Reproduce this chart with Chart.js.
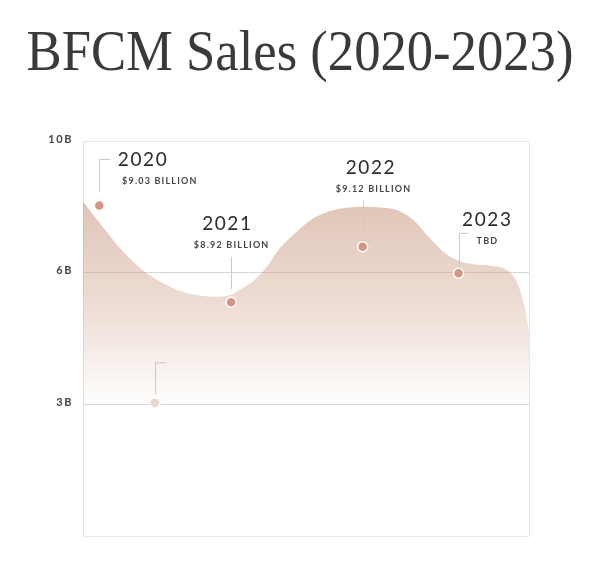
<!DOCTYPE html>
<html>
    <head>
        <title>BFCM Sales</title>
        <meta name="viewport" content="width=device-width, initial-scale=1.0">
        <script src="https://cdn.jsdelivr.net/npm/chart.js@4.4.0/dist/chart.umd.min.js"></script>

        <style>
            body {
                margin: 0;
                background: #fff;
            }
            .wrap {
                position: relative;
                width: 600px;
                height: 585px;
                overflow: hidden;
            }
            h1 {
                position: absolute;
                left: -100px;
                top: 23px;
                width: 800px;
                margin: 0;
                text-align: center;
                white-space: nowrap;
                font-family: 'Liberation Serif', serif;
                font-weight: normal;
                font-size: 56px;
                line-height: 56px;
                color: #3a3a3a;
                transform: scaleX(0.94);
            }
            canvas {
                position: absolute;
                left: 0;
                top: 0;
            }
        </style>
    </head>

    <body>
        <div class="wrap">
            <canvas id="myChart" width="600" height="585"></canvas>
            <h1>BFCM Sales (2020-2023)</h1>
        </div>

        <script>
            // y axis is drawn in equal steps, labelled 3B / 6B / 10B
            var tickLabels = ['', '3B', '6B', '10B'];

            // the four highlighted years
            var years = ['2020', '2021', '2022', '2023'];
            var salesLabels = ['$9.03 BILLION', '$8.92 BILLION', '$9.12 BILLION', 'TBD'];
            var pointX = [3.65, 33.2, 62.7, 84.2];
            var pointY = [2.51, 1.775, 2.197, 1.995];

            // faded marker without a label
            var ghostX = [16.1];
            var ghostY = [1.012];

            // outline of the shaded wave
            var curveX = [0, 2.31, 5.31, 8.30, 11.28, 14.28, 18.0, 21.75, 25.49, 29.22, 32.96, 35.87, 38.95,
                          41.19, 44.17, 47.91, 51.64, 55.38, 59.13, 62.85, 67.33, 70.34, 74.06, 77.8, 80.78,
                          83.79, 87.51, 91.26, 95.0, 97.24, 98.72, 99.84, 100.6, 100.97];
            var curveY = [2.54, 2.438, 2.311, 2.185, 2.083, 1.995, 1.919, 1.861, 1.830, 1.817, 1.830, 1.883, 1.959,
                          2.045, 2.187, 2.311, 2.413, 2.468, 2.493, 2.501, 2.493, 2.476, 2.400, 2.261, 2.159,
                          2.096, 2.063, 2.053, 2.020, 1.931, 1.779, 1.580, 1.324, 1.071];

            // leader line style per marker: gap above point, top of line, hook to the right
            var leaders = [
                { gap: 13, top: 46, hook: 11 },
                { gap: 13, top: 45, hook: 0 },
                { gap: 14, top: 46, hook: 0 },
                { gap: 0, top: 40, hook: 9 }
            ];
            var ghostLeader = { gap: 8, top: 40, hook: 11 };
            // text placement relative to each marker
            var yearOffsets = [[43, -46], [-4.5, -78], [7.5, -79], [28, -53]];
            var salesOffsets = [[60, -24], [0, -57], [10.3, -57.4], [28.3, -32]];

            function toPoints(xs, ys) {
                return xs.map(function (x, i) { return { x: x, y: ys[i] }; });
            }

            function areaFill(context) {
                var chart = context.chart;
                if (!chart.chartArea) return null;
                var y = chart.scales.y;
                var g = chart.ctx.createLinearGradient(0, y.getPixelForValue(2.55), 0, y.getPixelForValue(0.98));
                g.addColorStop(0, 'rgba(200,150,125,0.56)');
                g.addColorStop(0.55, 'rgba(200,150,125,0.3)');
                g.addColorStop(1, 'rgba(200,150,125,0)');
                return g;
            }

            function drawLeader(ctx, x, y, s) {
                ctx.beginPath();
                ctx.moveTo(x, y - s.gap);
                ctx.lineTo(x, y - s.top);
                if (s.hook) ctx.lineTo(x + s.hook, y - s.top);
                ctx.stroke();
            }

            var annotations = {
                id: 'annotations',
                beforeDraw: function (chart) {
                    chart.ctx.letterSpacing = '1.6px';
                },
                afterDatasetDraw: function (chart, args) {
                    if (args.index !== 0) return;
                    var ctx = chart.ctx;
                    ctx.save();
                    ctx.strokeStyle = '#cacaca';
                    ctx.lineWidth = 1;
                    chart.getDatasetMeta(2).data.forEach(function (p, i) {
                        drawLeader(ctx, Math.round(p.x) + 0.5, p.y, leaders[i]);
                    });
                    var g = chart.getDatasetMeta(1).data[0];
                    drawLeader(ctx, Math.round(g.x) + 0.5, g.y, ghostLeader);
                    ctx.restore();
                },
                afterDraw: function (chart) {
                    var ctx = chart.ctx;
                    ctx.save();
                    ctx.textAlign = 'center';
                    ctx.textBaseline = 'middle';
                    chart.getDatasetMeta(2).data.forEach(function (p, i) {
                        ctx.letterSpacing = '1.6px';
                        ctx.font = '19px Lato';
                        ctx.fillStyle = '#2b2b2b';
                        ctx.fillText(years[i], p.x + yearOffsets[i][0] + 0.8, p.y + yearOffsets[i][1]);
                        ctx.letterSpacing = '1.2px';
                        ctx.font = 'bold 9px Lato';
                        ctx.fillStyle = '#454545';
                        ctx.fillText(salesLabels[i], p.x + salesOffsets[i][0] + 0.6, p.y + salesOffsets[i][1]);
                    });
                    ctx.restore();
                    ctx.letterSpacing = '0px';
                }
            };

            var ctx = document.getElementById('myChart').getContext('2d');
            var chart = new Chart(ctx, {
                type: 'line',
                data: {
                    datasets: [{
                        label: 'wave',
                        data: toPoints(curveX, curveY),
                        fill: 'start',
                        backgroundColor: areaFill,
                        borderWidth: 0,
                        borderColor: 'rgba(0,0,0,0)',
                        pointRadius: 0,
                        pointHoverRadius: 0,
                        cubicInterpolationMode: 'monotone',
                        clip: false,
                        order: 3
                    }, {
                        label: 'ghost',
                        data: toPoints(ghostX, ghostY),
                        showLine: false,
                        backgroundColor: '#e9d6cc',
                        borderColor: '#ffffff',
                        borderWidth: 1.5,
                        pointRadius: 5,
                        order: 2
                    }, {
                        label: 'sales',
                        data: toPoints(pointX, pointY),
                        showLine: false,
                        backgroundColor: '#d39682',
                        borderColor: '#ffffff',
                        borderWidth: 1.5,
                        pointRadius: 5,
                        order: 1
                    }]
                },
                options: {
                    responsive: false,
                    animation: false,
                    layout: {
                        padding: { top: 141, right: 71, bottom: 49, left: 0 }
                    },
                    plugins: {
                        legend: { display: false },
                        tooltip: { enabled: false }
                    },
                    scales: {
                        x: {
                            type: 'linear',
                            min: 0,
                            max: 100,
                            afterFit: function (s) { s.height = 0; },
                            ticks: { display: false, stepSize: 100 },
                            grid: { color: '#e6e6e6', drawTicks: false },
                            border: { display: false }
                        },
                        y: {
                            min: 0,
                            max: 3,
                            afterFit: function (s) { s.width = 83; },
                            ticks: {
                                stepSize: 1,
                                padding: 10,
                                labelOffset: -2,
                                color: '#444',
                                font: { family: 'Lato', size: 11, weight: 'bold' },
                                callback: function (v) { return tickLabels[v]; }
                            },
                            grid: {
                                drawTicks: false,
                                color: function (c) {
                                    return (c.tick.value === 1 || c.tick.value === 2) ? 'rgba(0,0,0,0.16)' : '#e6e6e6';
                                }
                            },
                            border: { display: false }
                        }
                    }
                },
                plugins: [annotations]
            });
        </script>
    </body>
</html>
